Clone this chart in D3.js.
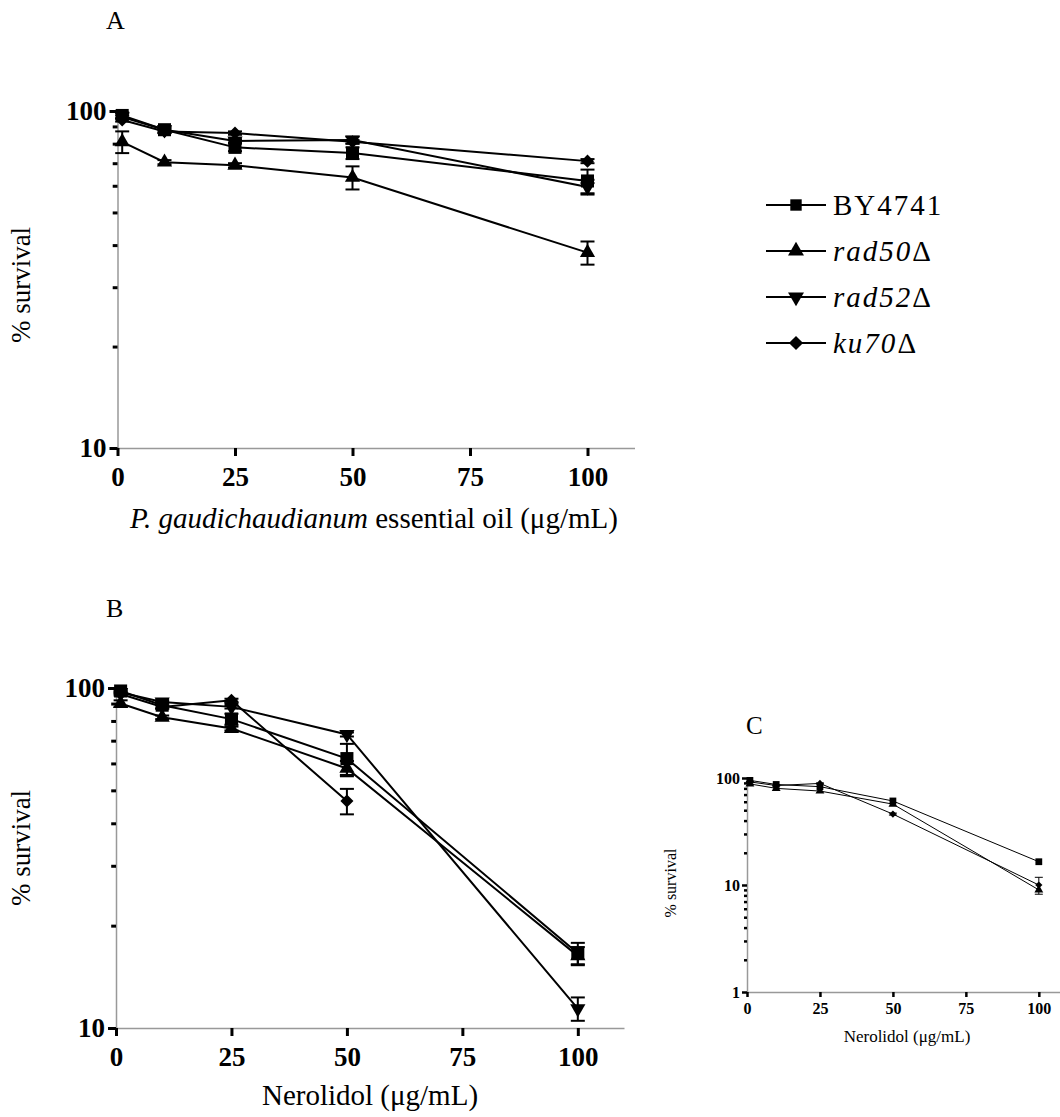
<!DOCTYPE html>
<html>
<head>
<meta charset="utf-8">
<script src="https://cdn.jsdelivr.net/npm/d3@7"></script>
<style>
  body { margin: 0; background: #fff; }
  svg { display: block; font-family: "Liberation Serif", "Times New Roman", serif; }
</style>
</head>
<body>
<div id="chart"></div>
<script>
// doses (ug/mL) and strains
const doses = [1, 10, 25, 50, 100];
const strains = ['BY4741', 'rad50', 'rad52', 'ku70'];
const xTickValues = [0, 25, 50, 75, 100];

// A - P. gaudichaudianum essential oil
const oilBY4741 = [97, 88, 78, 75, 62];
const oilBY4741Err = [2, 2, 2, 3, 5];
const oilRad50 = [81, 70.5, 69, 63.5, 38];
const oilRad50Err = [6, 1, 1, 5, 3];
const oilRad52 = [96, 88, 81.5, 82, 59.5];
const oilRad52Err = [1, 1, 1, 2, 3];
const oilKu70 = [94, 87, 86, 81, 71];
const oilKu70Err = [1, 1, 1, 1, 1];

// B - Nerolidol
const nerBY4741 = [98, 89, 81, 62, 16.6];
const nerBY4741Err = [1, 2, 3, 6.5, 1.2];
const nerRad50 = [90, 82, 76, 58, 16.3];
const nerRad50Err = [2, 1, 1, 3, 1];
const nerRad52 = [97, 91, 88, 73, 11.4];
const nerRad52Err = [1, 1, 1, 1, 0.9];
const nerKu70 = [96, 88, 92, 46.5, null];
const nerKu70Err = [1, 1, 1, 4, 0];

// C - Nerolidol, wider range
const cBY4741 = [95, 87, 83, 61, 16.5];
const cRad50 = [88, 80, 75.5, 57, 9];
const cKu70 = [92, 85, 89, 46, 10];
const cKu70Err = [1, 1, 1, 1, 1.8];

const shapes = { BY4741: 'square', rad50: 'up', rad52: 'down', ku70: 'diamond' };

function series(name, values, errors) {
  return { name, shape: shapes[name], points: doses.map((d, i) => ({ dose: d, v: values[i], e: errors ? errors[i] : 0 })) };
}

const W = 1060, H = 1117;
const svg = d3.select('#chart').append('svg').attr('width', W).attr('height', H);

function marker(sel, shape, sz) {
  const sym = shape === 'square' || shape === 'diamond' ? d3.symbolSquare : d3.symbolTriangle;
  const area = shape === 'square' ? sz.sq : shape === 'diamond' ? sz.dia : sz.tri;
  sel.attr('d', d3.symbol(sym, area)());
  return shape === 'down' ? ' rotate(180)' : shape === 'diamond' ? ' rotate(45)' : '';
}

function drawPanel(p) {
  const x = d3.scaleLinear().domain([0, 110]).range(p.xRange);
  const y = d3.scaleLog().domain(p.yDomain).range(p.yRange);
  const g = svg.append('g');

  // y axis: major + minor ticks
  g.append('g').attr('transform', `translate(${p.xRange[0]},0)`)
    .call(d3.axisLeft(y).tickValues(p.yMajor).tickFormat(d3.format('d'))
      .tickSize(p.tick).tickSizeOuter(0).tickPadding(p.pad));
  g.append('g').attr('transform', `translate(${p.xRange[0]},0)`)
    .call(d3.axisLeft(y).tickValues(p.yMinor).tickFormat('').tickSize(p.tick * 0.6).tickSizeOuter(0))
    .select('.domain').remove();

  g.append('g').attr('transform', `translate(0,${p.yRange[0]})`)
    .call(d3.axisBottom(x).tickValues(xTickValues).tickSize(p.tick).tickSizeOuter(0).tickPadding(p.xPad));

  g.selectAll('.domain').attr('stroke', '#999').attr('stroke-width', 1.5);
  g.selectAll('.tick line').attr('stroke', '#000').attr('stroke-width', p.tickW);
  g.selectAll('.tick text').attr('font-family', '"Liberation Serif", serif')
    .attr('font-weight', 'bold').attr('font-size', p.tickFont).attr('fill', '#000');

  // lines
  const line = d3.line().defined(d => d.v != null).x(d => x(d.dose)).y(d => y(d.v));
  p.series.forEach(s => {
    g.append('path').datum(s.points).attr('d', line)
      .attr('fill', 'none').attr('stroke', '#000').attr('stroke-width', p.lineW);
  });

  // error bars
  p.series.forEach(s => {
    s.points.filter(d => d.v != null && d.e > 0).forEach(d => {
      const cx = x(d.dose), y1 = y(d.v + d.e), y2 = y(d.v - d.e);
      g.append('line').attr('x1', cx).attr('x2', cx).attr('y1', y1).attr('y2', y2)
        .attr('stroke', '#000').attr('stroke-width', p.lineW);
      [y1, y2].forEach(yy => g.append('line').attr('x1', cx - p.cap).attr('x2', cx + p.cap)
        .attr('y1', yy).attr('y2', yy).attr('stroke', '#000').attr('stroke-width', p.lineW));
    });
  });

  // markers
  p.series.forEach(s => {
    s.points.filter(d => d.v != null).forEach(d => {
      const path = g.append('path').attr('fill', '#000');
      const rot = marker(path, s.shape, p.sym);
      path.attr('transform', `translate(${x(d.dose)},${y(d.v)})` + rot);
    });
  });

  // titles
  g.append('text').attr('x', p.letter[0]).attr('y', p.letter[1]).attr('font-size', p.letterFont).text(p.name);
  g.append('text').attr('transform', `translate(${p.yTitle[0]},${p.yTitle[1]}) rotate(-90)`)
    .attr('text-anchor', 'middle').attr('font-size', p.yTitleFont).text('% survival');
  const xt = g.append('text').attr('x', p.xTitle[0]).attr('y', p.xTitle[1])
    .attr('text-anchor', 'middle').attr('font-size', p.xTitleFont);
  if (p.italicPart) {
    xt.append('tspan').attr('font-style', 'italic').text(p.italicPart);
    xt.append('tspan').text(p.xLabel);
  } else {
    xt.text(p.xLabel);
  }
}

const bigSym = { sq: 170, tri: 100, dia: 85 };
const smallSym = { sq: 46, tri: 34, dia: 26 };
const minor10 = [20, 30, 40, 50, 60, 70, 80, 90];

drawPanel({
  name: 'A', letter: [106, 29], letterFont: 26,
  xRange: [117.5, 634.5], yDomain: [10, 100], yRange: [448, 111],
  yMajor: [10, 100], yMinor: minor10,
  tick: 8, tickW: 3, pad: 3, xPad: 11, tickFont: 27, lineW: 2, cap: 7, sym: bigSym,
  yTitle: [30, 285], yTitleFont: 27,
  xTitle: [374, 528], xTitleFont: 29, italicPart: 'P. gaudichaudianum', xLabel: ' essential oil (\u03bcg/mL)',
  series: [series('BY4741', oilBY4741, oilBY4741Err), series('rad50', oilRad50, oilRad50Err),
           series('rad52', oilRad52, oilRad52Err), series('ku70', oilKu70, oilKu70Err)]
});

drawPanel({
  name: 'B', letter: [106, 617], letterFont: 26,
  xRange: [116, 624], yDomain: [10, 100], yRange: [1028, 688],
  yMajor: [10, 100], yMinor: minor10,
  tick: 8, tickW: 3, pad: 3, xPad: 11, tickFont: 27, lineW: 2, cap: 7, sym: bigSym,
  yTitle: [30, 848], yTitleFont: 27,
  xTitle: [370, 1105], xTitleFont: 29, xLabel: 'Nerolidol (\u03bcg/mL)',
  series: [series('BY4741', nerBY4741, nerBY4741Err), series('rad50', nerRad50, nerRad50Err),
           series('rad52', nerRad52, nerRad52Err), series('ku70', nerKu70, nerKu70Err)]
});

drawPanel({
  name: 'C', letter: [746, 734], letterFont: 25,
  xRange: [747, 1068], yDomain: [1, 100], yRange: [992, 778],
  yMajor: [1, 10, 100], yMinor: [2, 3, 4, 5, 6, 7, 8, 9].concat(minor10),
  tick: 5, tickW: 2.5, pad: 2, xPad: 6, tickFont: 16, lineW: 1, cap: 4, sym: smallSym,
  yTitle: [676, 883], yTitleFont: 16,
  xTitle: [907, 1042], xTitleFont: 17, xLabel: 'Nerolidol (\u03bcg/mL)',
  series: [series('BY4741', cBY4741), series('rad50', cRad50), series('ku70', cKu70, cKu70Err)]
});

// legend
const legendRows = [205, 251, 297, 343];
const legendSym = { sq: 130, tri: 110, dia: 100 };
const legend = svg.append('g');
strains.forEach((name, i) => {
  const row = legend.append('g').attr('transform', `translate(0,${legendRows[i]})`);
  row.append('line').attr('x1', 766).attr('x2', 826).attr('stroke', '#000').attr('stroke-width', 2);
  const path = row.append('path').attr('fill', '#000');
  const rot = marker(path, shapes[name], legendSym);
  path.attr('transform', 'translate(796,0)' + rot);
  const t = row.append('text').attr('x', 833).attr('y', 10).attr('font-size', 29).attr('letter-spacing', 2);
  if (name === 'BY4741') {
    t.text(name);
  } else {
    t.append('tspan').attr('font-style', 'italic').text(name);
    t.append('tspan').text('\u0394');
  }
});
</script>
</body>
</html>
